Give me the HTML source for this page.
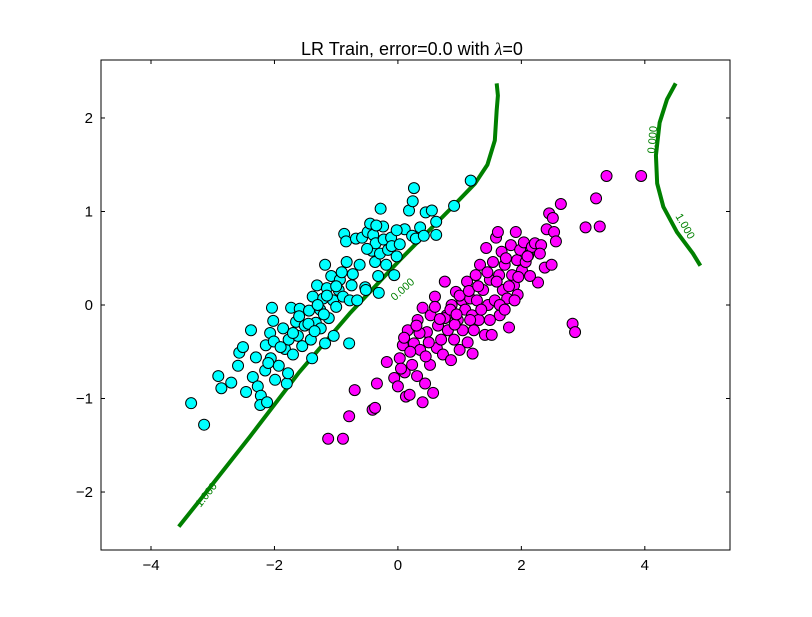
<!DOCTYPE html>
<html><head><meta charset="utf-8"><style>
body{margin:0;background:#fff;width:812px;height:612px;overflow:hidden;font-family:"Liberation Sans","DejaVu Sans",sans-serif}
</style></head><body>
<svg id="chart" width="812" height="612" xmlns="http://www.w3.org/2000/svg">
<rect width="812" height="612" fill="#fff"/>
<text x="412" y="55" text-anchor="middle" font-size="18" font-family="Liberation Sans, sans-serif">LR Train, error=0.0 with <tspan font-family="Liberation Serif, serif" font-style="italic">λ</tspan>=0</text>
<g id="plot"></g>
</svg>
<script>
const xTicks=[-4,-2,0,2,4];
const yTicks=[-2,-1,0,1,2];
const cyanX=[-3.35,-3.14,-2.91,-2.86,-2.70,-2.59,-2.57,-2.51,-2.46,-2.38,-2.35,-2.30,-2.27,-2.22,-2.23,-2.12,-2.15,-2.14,-2.07,-2.06,-2.04,-2.02,-2.01,-1.99,-1.93,-1.86,-1.83,-1.80,-1.78,-1.73,-1.77,-1.70,-1.65,-1.62,-1.59,-1.55,-1.51,-1.44,-1.41,-1.39,-1.38,-1.33,-1.31,-1.26,-1.25,-1.21,-1.18,-1.18,-1.15,-1.12,-1.08,-1.05,-1.04,-1.00,-0.96,-0.94,-0.91,-0.89,-0.87,-0.84,-0.83,-0.79,-0.78,-0.75,-0.73,-0.68,-0.66,-0.62,-0.58,-0.53,-0.52,-0.49,-0.45,-0.42,-0.40,-0.37,-0.36,-0.32,-0.31,-0.29,-0.28,-0.24,-0.23,-0.19,-0.16,-0.11,-0.10,-0.06,-0.02,0.11,0.18,0.24,0.26,0.23,0.29,0.36,0.42,0.45,0.55,0.62,0.62,0.91,1.18,0.03,-0.02,-1.6,-1.45,-1.3,-1.15,-1.0,-1.35,-1.2,-1.9,-2.1,-1.7,-0.5,-0.35];
const cyanY=[-1.05,-1.28,-0.76,-0.89,-0.83,-0.65,-0.51,-0.45,-0.93,-0.27,-0.77,-0.56,-0.87,-0.97,-1.07,-1.04,-0.70,-0.43,-0.30,-0.57,-0.03,-0.17,-0.39,-0.80,-0.65,-0.25,-0.47,-0.84,-0.73,-0.03,-0.37,-0.53,-0.18,-0.33,-0.04,-0.44,-0.22,-0.06,-0.37,-0.57,0.09,-0.19,0.21,-0.05,-0.25,0.07,0.43,-0.41,0.18,-0.14,0.31,0.05,-0.33,-0.02,0.16,0.27,0.35,0.09,0.76,0.68,0.46,-0.41,0.05,0.21,0.33,0.71,0.05,0.43,0.72,0.19,0.16,0.78,0.87,0.58,0.75,0.46,0.66,0.31,0.13,0.55,1.03,0.84,0.70,0.43,0.59,0.72,0.63,0.32,0.52,0.81,1.01,1.11,1.25,0.74,0.71,0.83,0.74,0.99,1.01,0.89,0.75,1.06,1.33,0.65,0.80,-0.12,-0.2,0.0,0.1,0.2,-0.28,-0.1,-0.45,-0.62,-0.3,0.6,0.85];
const magX=[-1.13,-0.89,-0.79,-0.70,-0.41,-0.37,-0.34,-0.18,-0.06,0,0.03,0.08,0.13,0.11,0.16,0.19,0.23,0.26,0.31,0.32,0.36,0.40,0.40,0.44,0.47,0.52,0.53,0.57,0.60,0.63,0.65,0.70,0.73,0.76,0.79,0.81,0.86,0.87,0.91,0.94,0.97,1.00,1.04,1.05,1.09,1.12,1.13,1.17,1.20,1.21,1.23,1.26,1.28,1.31,1.33,1.38,1.41,1.43,1.46,1.49,1.52,1.54,1.57,1.59,1.62,1.64,1.65,1.68,1.70,1.73,1.77,1.80,1.83,1.85,1.88,1.91,1.93,1.94,1.98,2.01,2.04,2.07,2.11,2.17,2.22,2.27,2.32,2.38,2.41,2.45,2.49,2.51,2.53,2.56,2.64,2.83,2.87,3.04,3.21,3.27,3.38,3.94,0.6,0.76,1.65,2.14,1.89,0.92,1.17,1.49,1.73,0.2,0.35,0.5,0.68,0.85,1.0,1.15,1.3,1.45,1.6,1.75,1.95,2.1,0.1,0.45,0.95,1.35,1.8,2.3,0.05,0.3];
const magY=[-1.43,-1.43,-1.19,-0.91,-1.12,-1.10,-0.84,-0.61,-0.78,-0.87,-0.57,-0.43,-0.98,-0.72,-0.27,-0.96,-0.64,-0.41,-0.76,-0.16,-0.48,-1.04,-0.03,-0.84,-0.29,-0.64,-0.11,-0.94,0.09,-0.46,-0.22,-0.37,-0.53,0.25,-0.11,-0.27,-0.59,0,-0.37,0.14,-0.16,-0.48,0.05,-0.27,-0.05,0.25,-0.40,0.07,-0.11,-0.52,-0.27,0.32,0.05,-0.16,0.43,0.16,-0.32,0.61,0,0.27,-0.32,0.46,0.05,0.72,0.78,0.32,-0.11,0.57,0.16,0.43,0.07,-0.24,0.64,0.32,0.21,0.78,0.48,0.11,0.59,0.37,0.67,0.46,0.53,0.62,0.66,0.24,0.64,0.40,0.81,0.98,0.43,0.93,0.78,0.68,1.08,-0.20,-0.29,0.83,1.14,0.84,1.38,1.38,-0.02,-0.14,0,0.31,0.05,-0.21,-0.16,-0.16,-0.05,-0.5,-0.3,-0.4,-0.15,-0.05,0.1,0.15,0.2,0.35,0.25,0.5,0.3,0.52,-0.35,-0.55,-0.1,-0.05,0.2,0.55,-0.68,-0.22];
const boundX=[-3.55,-3.2,-2.4,-1.6,-0.78,0.03,0.84,1.25,1.45,1.57,1.6,1.62,1.6];
const boundY=[-2.37,-2.08,-1.41,-0.72,-0.09,0.48,1.02,1.3,1.5,1.76,2.08,2.24,2.37];
const bound2X=[4.5,4.36,4.24,4.18,4.2,4.3,4.52,4.78,4.9];
const bound2Y=[2.37,2.2,1.95,1.6,1.3,1.05,0.78,0.55,0.42];

const L=101,R=730,T=60,B=550,xmin=-4.81,xmax=5.38,ymin=-2.62,ymax=2.62;
const sx=v=>L+(v-xmin)/(xmax-xmin)*(R-L);
const sy=v=>B-(v-ymin)/(ymax-ymin)*(B-T);
const NS='http://www.w3.org/2000/svg';
const g=document.getElementById('plot');
function mk(t,a,p){const e=document.createElementNS(NS,t);for(const k in a)e.setAttribute(k,a[k]);(p||g).appendChild(e);return e;}

function line(xs,ys,name){
  const e=mk('polyline',{points:xs.map((x,i)=>sx(x)+','+sy(ys[i])).join(' '),fill:'none',stroke:'#008000','stroke-width':4,'stroke-linejoin':'round'});
  
  
}
line(boundX,boundY,'decision-boundary-left');
line(bound2X,bound2Y,'decision-boundary-right');

function pts(xs,ys,col,name){
  xs.forEach((x,i)=>{
    const c=mk('circle',{cx:sx(x),cy:sy(ys[i]),r:5.5,fill:col,stroke:'#000','stroke-width':1});
    
    
  });
}
pts(cyanX,cyanY,'#00ffff','cyan-point');
pts(magX,magY,'#ff00ff','magenta-point');

function clabel(x,y,rot,txt){
  const t=mk('text',{x:x,y:y,fill:'#008000','font-size':11,'text-anchor':'middle',transform:`rotate(${rot} ${x} ${y})`});
  t.textContent=txt;
  
  
}
clabel(209,497,-52,'1.000');
clabel(405,292,-42,'0.000');
clabel(656,140,-85,'0.000');
clabel(682,228,60,'1.000');

const fr=mk('rect',{x:L,y:T,width:R-L,height:B-T,fill:'none',stroke:'#000','stroke-width':1});



xTicks.forEach(v=>{
  const x=sx(v);
  mk('line',{x1:x,y1:B,x2:x,y2:B-4,stroke:'#000'});
  mk('line',{x1:x,y1:T,x2:x,y2:T+4,stroke:'#000'});
  const t=mk('text',{x:x,y:B+20,'text-anchor':'middle','font-size':15});
  t.textContent=(v<0?'\u2212'+(-v):v);
  
  
});
yTicks.forEach(v=>{
  const y=sy(v);
  mk('line',{x1:L,y1:y,x2:L+4,y2:y,stroke:'#000'});
  mk('line',{x1:R,y1:y,x2:R-4,y2:y,stroke:'#000'});
  const t=mk('text',{x:L-8,y:y+5,'text-anchor':'end','font-size':15});
  t.textContent=(v<0?'\u2212'+(-v):v);
  
  
});
</script>
</body></html>
